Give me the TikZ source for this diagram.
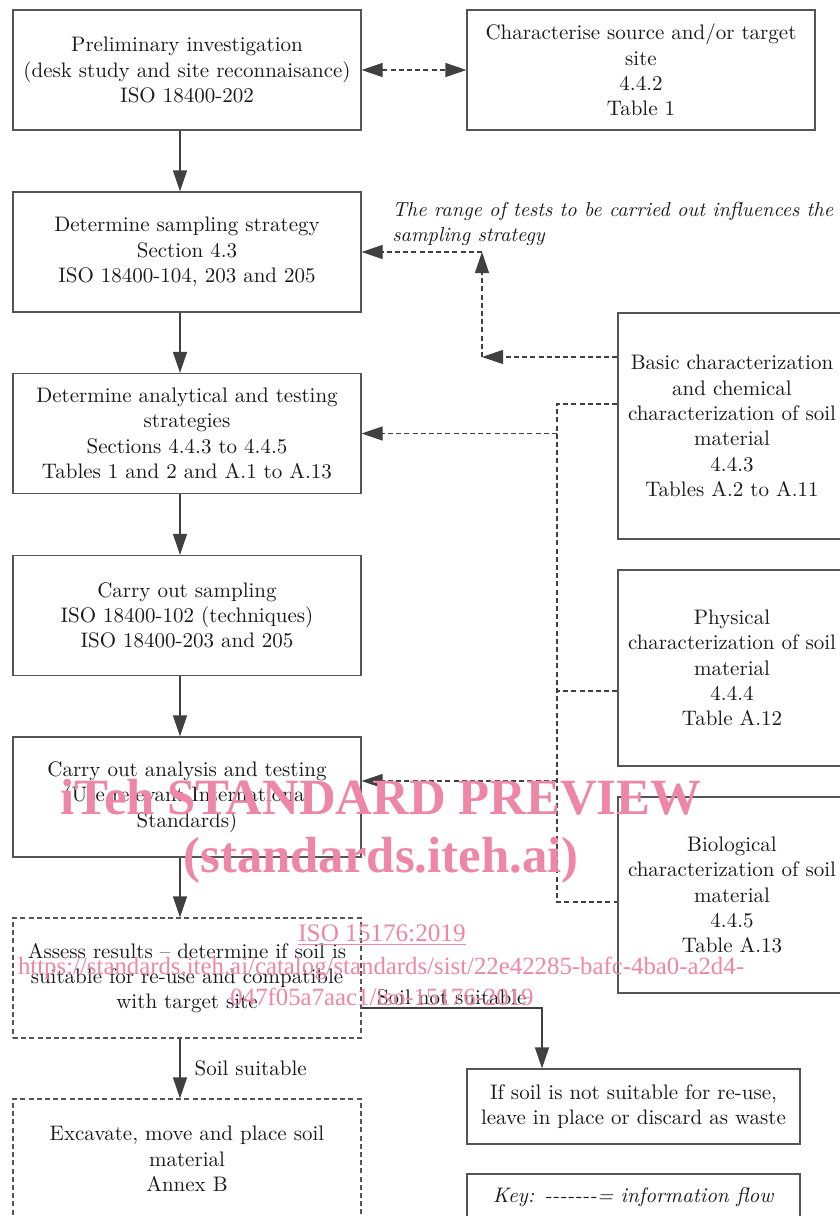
\documentclass[tikz,border=0pt]{standalone}
\usepackage{fontspec}
\usetikzlibrary{arrows.meta}
\newfontfamily\wmfont{Liberation Serif}
\definecolor{boxgray}{RGB}{85,85,85}
\definecolor{linegray}{RGB}{64,64,64}
\definecolor{wmpink}{RGB}{238,134,166}
\tikzset{
  >={Triangle[length=10.5pt,width=7pt]},
  box/.style={draw=boxgray, line width=0.6pt, minimum width=174pt, minimum height=60pt,
    align=center, inner sep=2pt, text=black!90, font=\fontsize{10.5}{12.65}\selectfont},
  dbox/.style={box, dash pattern=on 2.5pt off 1.6pt},
  rbox/.style={box, minimum width=114pt},
  flow/.style={->, draw=linegray, line width=0.6pt},
  info/.style={draw=linegray, line width=0.6pt, dash pattern=on 2.5pt off 1.6pt},
  wmark/.style={text=wmpink, inner sep=0pt}
}
\begin{document}
\begin{tikzpicture}[x=0.5pt,y=-0.5pt]
\useasboundingbox (0,0) rectangle (840,1216);
% main column
\node[box] (prelim) at (187,70) {Preliminary investigation\\(desk study and site reconnaisance)\\ISO 18400-202};
\node[box] (charac) at (641,70) {Characterise source and/or target\\site\\4.4.2\\Table 1};
\node[box] (strat) at (187,252) {Determine sampling strategy\\Section 4.3\\ISO 18400-104, 203 and 205};
\node[box] (analy) at (187,433.5) {Determine analytical and testing\\strategies\\Sections 4.4.3 to 4.4.5\\Tables 1 and 2 and A.1 to A.13};
\node[box] (sampl) at (187,615.5) {Carry out sampling\\ISO 18400-102 (techniques)\\ISO 18400-203 and 205};
\node[box] (test) at (187,797) {Carry out analysis and testing\\(Use relevant International\\Standards)};
\node[dbox] (assess) at (187,978) {Assess results -- determine if soil is\\suitable for re-use and compatible\\with target site};
\node[dbox] (excav) at (187,1159) {Excavate, move and place soil\\material\\Annex B};
\node[box, minimum width=166.5pt, minimum height=37.5pt] (waste) at (633.5,1106.5) {If soil is not suitable for re-use,\\leave in place or discard as waste};
\node[box, minimum width=166.5pt, minimum height=23pt] (key) at (633.5,1197) {\textit{Key: -{}-{}-{}-{}-{}-{}-= information flow}};
% right column
\node[rbox, minimum height=113pt] (basic) at (732,426) {Basic characterization\\and chemical\\characterization of soil\\material\\4.4.3\\Tables A.2 to A.11};
\node[rbox, minimum height=98pt] (phys) at (732,668) {Physical\\characterization of soil\\material\\4.4.4\\Table A.12};
\node[rbox, minimum height=98pt] (bio) at (732,895) {Biological\\characterization of soil\\material\\4.4.5\\Table A.13};
\node[align=left, anchor=west, inner sep=0pt, text=black!90, font=\fontsize{10.15}{12.65}\selectfont\itshape] (range) at (392,224) {The range of tests to be carried out influences the\\sampling strategy};
% arrows
\coordinate (ax) at (180,0);
\draw[flow] (prelim.south -| ax) -- (strat.north -| ax);
\draw[flow] (strat.south -| ax) -- (analy.north -| ax);
\draw[flow] (analy.south -| ax) -- (sampl.north -| ax);
\draw[flow] (sampl.south -| ax) -- (test.north -| ax);
\draw[flow] (test.south -| ax) -- (assess.north -| ax);
\draw[flow] (assess.south -| ax) -- node[right=6pt, inner sep=1pt, text=black!90, font=\fontsize{10.5}{12.65}\selectfont] (suit) {Soil suitable} (excav.north -| ax);
\coordinate (c1) at (542,1008);
\draw[flow] (assess.east |- c1) -- node[above, inner sep=1pt, text=black!90, font=\fontsize{10.5}{12.65}\selectfont] (nsuit) {Soil not suitable} (c1) -- (waste.north -| c1);
\draw[info, <->] (prelim.east) -- (charac.west);
% information flow from the right column
\coordinate (j1) at (482,357);
\draw[info, ->] (basic.west |- j1) -- (j1);
\draw[info, ->] (j1) -- (j1 |- strat.east);
\draw[info, ->] (j1 |- strat.east) -- (strat.east);
\coordinate (b1) at (557,404);
\coordinate (b2) at (557,902);
\coordinate (b3) at (557,691);
\coordinate (b4) at (557,781);
\draw[info] (basic.west |- b1) -- (b1) -- (b2) -- (bio.west |- b2);
\draw[info] (phys.west |- b3) -- (b3);
\draw[info, ->] (analy.east -| b1) -- (analy.east);
\draw[info, ->] (b4) -- (test.east |- b4);
% watermark
\node[wmark, font=\wmfont\bfseries\fontsize{25.4}{25.4}\selectfont] (wm1) at (381,797) {iTeh STANDARD PREVIEW};
\node[wmark, font=\wmfont\bfseries\fontsize{25.4}{25.4}\selectfont] (wm2) at (381,860) {(standards.iteh.ai)};
\node[wmark, font=\wmfont\fontsize{12.6}{12.6}\selectfont] (wm3) at (382,935) {\underline{ISO 15176:2019}};
\node[wmark, font=\wmfont\fontsize{12.4}{12.4}\selectfont] (wm4) at (381,968) {https://standards.iteh.ai/catalog/standards/sist/22e42285-bafc-4ba0-a2d4-};
\node[wmark, font=\wmfont\fontsize{12.4}{12.4}\selectfont] (wm5) at (382,997) {047f05a7aac1/iso-15176-2019};
\end{tikzpicture}
\end{document}
